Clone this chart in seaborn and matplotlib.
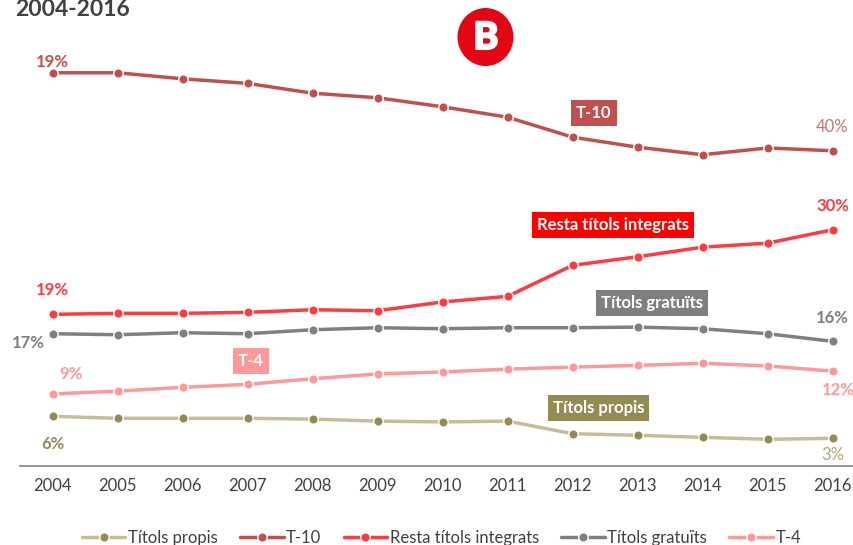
import matplotlib
matplotlib.use("Agg")
import matplotlib.pyplot as plt
import matplotlib.patheffects as pe
from matplotlib.patches import Ellipse
import seaborn as sns
import pandas as pd

sns.set_theme(style="white")
plt.rcParams['font.family'] = ['Lato', 'DejaVu Sans']

years = list(range(2004, 2017))

# values, hidden y axis
titols_propis = [12.3, 11.8, 11.8, 11.8, 11.6, 11.1, 10.9, 11.1, 7.95, 7.55, 7.05, 6.55, 6.8]
t10 = [98.2, 98.2, 96.7, 95.55, 93.1, 91.95, 89.7, 87.1, 82.1, 79.6, 77.7, 79.4, 78.7]
resta = [37.8, 38.05, 38.05, 38.3, 38.95, 38.7, 40.9, 42.3, 50.05, 52.2, 54.6, 55.6, 58.95]
gratuits = [32.95, 32.7, 33.2, 32.95, 33.95, 34.45, 34.2, 34.45, 34.45, 34.6, 34.2, 32.95, 31.05]
t4 = [17.9, 18.6, 19.55, 20.3, 21.7, 22.9, 23.4, 24.1, 24.6, 25.05, 25.55, 24.9, 23.6]

series_names = ["Títols propis", "T-10", "Resta títols integrats", "Títols gratuïts", "T-4"]
series_values = [titols_propis, t10, resta, gratuits, t4]
line_colors = ["#C4BD97", "#C0504D", "#FF3B40", "#7F7F7F", "#FF9999"]
marker_colors = ["#948A54", "#C0504D", "#FF3B40", "#7F7F7F", "#FF9999"]
box_colors = ["#948A54", "#C0504D", "#FF0000", "#7F7F7F", "#FF9999"]

# name, year, value, colour, dx px, dy px, bold
point_labels = [
    ("19%", 2004, t10[0], "#C0504D", 0, 11, True),
    ("40%", 2016, t10[-1], "#CD7371", 0, 24, False),
    ("19%", 2004, resta[0], "#FF3B40", 0, 24, True),
    ("30%", 2016, resta[-1], "#FF3B40", 0, 24, True),
    ("17%", 2004, gratuits[0], "#7F7F7F", -24, -9, True),
    ("16%", 2016, gratuits[-1], "#7F7F7F", 0, 23, True),
    ("9%", 2004, t4[0], "#FF9999", 18, 20, True),
    ("12%", 2016, t4[-1], "#FF9999", 6, -19, True),
    ("6%", 2004, titols_propis[0], "#948A54", 0, -28, True),
    ("3%", 2016, titols_propis[-1], "#AFA778", 0, -17, False),
]

# series name, centre year, centre value
box_labels = [
    ("T-10", 2012.33, 88.2),
    ("Resta títols integrats", 2012.63, 60.1),
    ("Títols gratuïts", 2013.22, 40.6),
    ("T-4", 2007.05, 26.1),
    ("Títols propis", 2012.4, 14.4),
]

fig = plt.figure(figsize=(8.54, 5.45), dpi=100)
ax = fig.add_axes([20 / 854, 1 - 465.5 / 545, 834 / 854, 465.5 / 545])

for name, vals, lc, mc in zip(series_names, series_values, line_colors, marker_colors):
    df = pd.DataFrame({"year": years, "value": vals})
    sns.lineplot(data=df, x="year", y="value", ax=ax, color=lc, lw=2.5, marker="o", ms=6.8,
                 markerfacecolor=mc, markeredgecolor="white", markeredgewidth=1.0, label=name,
                 clip_on=False)

ax.set_xlim(2003.5, 2016.33)
ax.set_ylim(0, 116.4)
ax.set_xticks(years)
ax.set_xticklabels(years, fontsize=12, color="#404040")
ax.tick_params(axis="x", length=0, pad=9)
ax.set_yticks([])
ax.set_xlabel("")
ax.set_ylabel("")
sns.despine(ax=ax, left=True)
ax.spines["bottom"].set_color("#808080")
ax.spines["bottom"].set_linewidth(1.2)
ax.patch.set_alpha(0)

for txt, yr, val, col, dx, dy, bold in point_labels:
    ax.annotate(txt, (yr, val), xytext=(dx * 0.72, dy * 0.72), textcoords="offset points",
                ha="center", va="center", color=col, fontsize=12,
                fontweight="bold" if bold else "normal")

for name, yr, val in box_labels:
    col = box_colors[series_names.index(name)]
    ax.text(yr, val, name, ha="center", va="center", color="white", fontsize=12, fontweight="bold",
            bbox=dict(boxstyle="square,pad=0.3", fc=col, ec="none"))

handles, labels = ax.get_legend_handles_labels()
ax.legend(handles, labels, ncol=5, loc="center", bbox_to_anchor=(441.5 / 854, 7 / 545), bbox_transform=fig.transFigure,
          frameon=False, fontsize=12, handlelength=2.6, handletextpad=0.15, columnspacing=1.35,
          labelcolor="#404040")

fig.text(15 / 854, 1 - 9 / 545, "2004-2016", fontsize=16.5, fontweight="bold", color="#404040",
         ha="left", va="center")

# logo
fig.add_artist(Ellipse((485.5 / 854, 1 - 37 / 545), 56 / 854, 58 / 545, transform=fig.transFigure,
                       fc="#E30613", ec="none"))
fig.text(486 / 854, 1 - 38 / 545, "B", fontsize=27, fontweight="black", color="white",
         ha="center", va="center", path_effects=[pe.withStroke(linewidth=1.5, foreground="white")])

fig.savefig("out.png", dpi=100)
